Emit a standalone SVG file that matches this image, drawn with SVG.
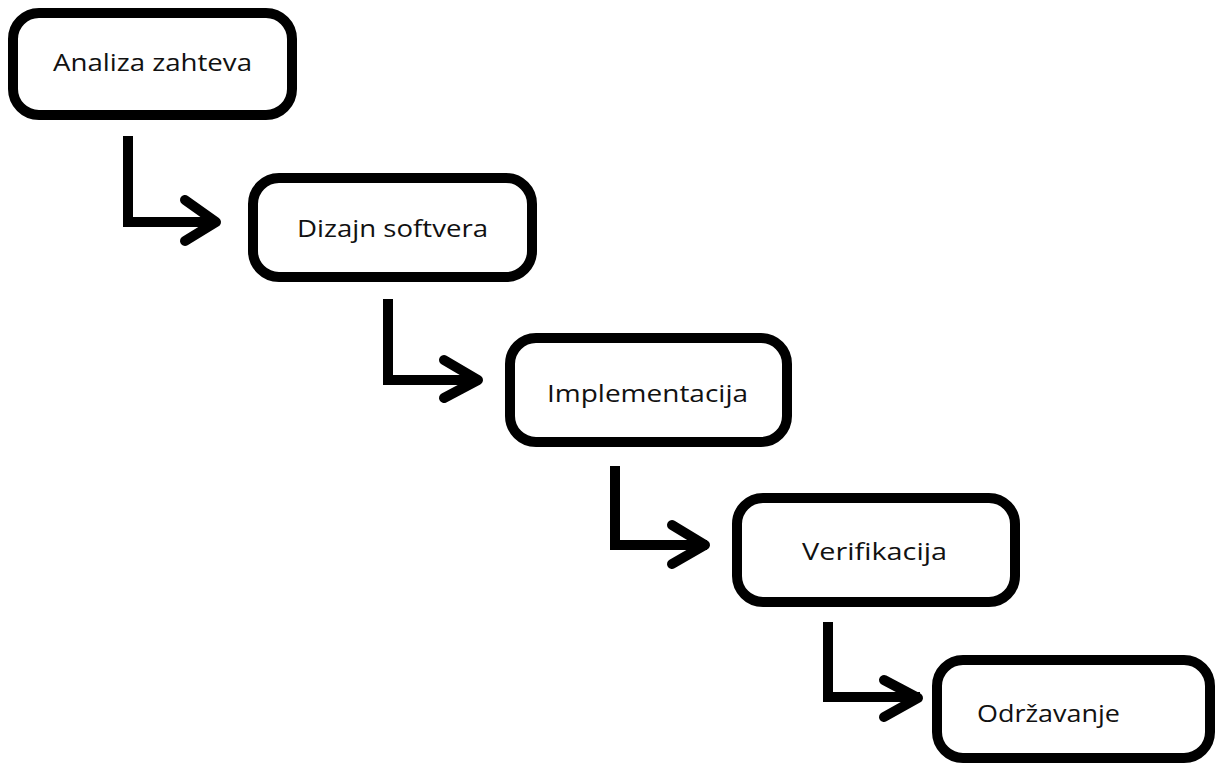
<svg xmlns="http://www.w3.org/2000/svg" width="1218" height="764" viewBox="0 0 1218 764">
<style>
.box{fill:#fff;stroke:#000;stroke-width:10}
.lbl{font-family:"Open Sans","Noto Sans",sans-serif;font-size:24px;fill:#111}
.ln{fill:none;stroke:#000;stroke-width:10;stroke-linejoin:miter;stroke-linecap:square}
.hd{fill:none;stroke:#000;stroke-width:10;stroke-linejoin:round;stroke-linecap:round}
</style>
<rect width="1218" height="764" fill="#fff"/>
<g id="connectors">
<path class="ln" d="M128,141 V222 H212"/><path class="hd" d="M185,200 L216,222 L185,241"/>
<path class="ln" d="M388,304 V380 H474"/><path class="hd" d="M444,360 L478,380 L444,398"/>
<path class="ln" d="M615,471 V545 H702"/><path class="hd" d="M672,525 L705,545 L672,564"/>
<path class="ln" d="M828,627 V697 H915"/><path class="hd" d="M884,680 L918,698 L884,717"/>
</g>
<g id="n1"><rect class="box" x="13" y="13" width="279" height="102" rx="26"/><text class="lbl" x="53" y="71" textLength="199" lengthAdjust="spacingAndGlyphs">Analiza zahteva</text></g>
<g id="n2"><rect class="box" x="253" y="178" width="279" height="99" rx="26"/><text class="lbl" x="297" y="237" textLength="191" lengthAdjust="spacingAndGlyphs">Dizajn softvera</text></g>
<g id="n3"><rect class="box" x="510" y="338" width="277" height="104" rx="26"/><text class="lbl" x="547" y="402" textLength="201" lengthAdjust="spacingAndGlyphs">Implementacija</text></g>
<g id="n4"><rect class="box" x="737" y="498" width="278" height="104" rx="26"/><text class="lbl" x="802" y="560" textLength="145" lengthAdjust="spacingAndGlyphs">Verifikacija</text></g>
<g id="n5"><rect class="box" x="937" y="660" width="273" height="98" rx="26"/><text class="lbl" x="977" y="722" textLength="143" lengthAdjust="spacingAndGlyphs">Održavanje</text></g>
</svg>
